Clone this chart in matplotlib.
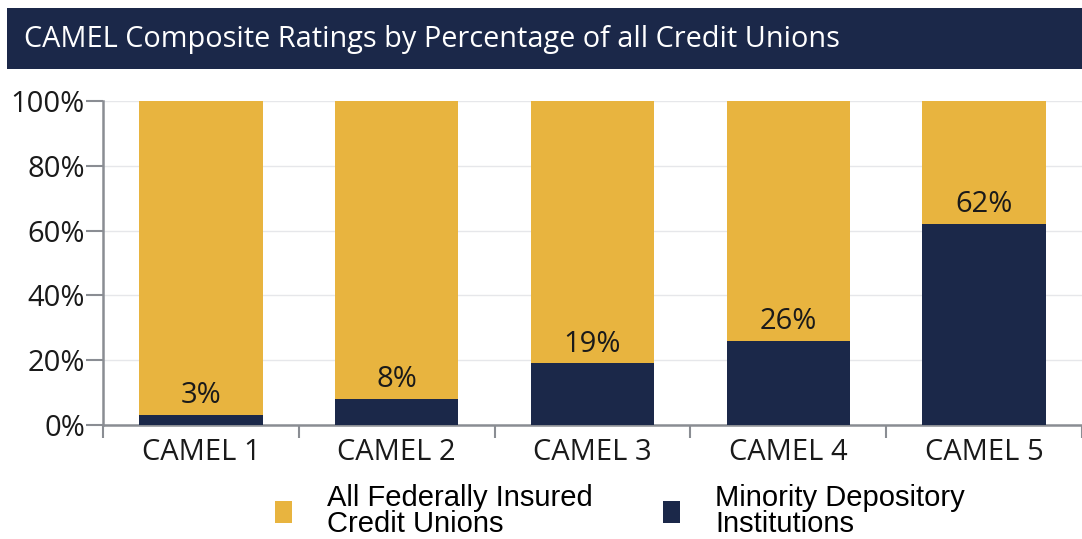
import matplotlib
matplotlib.use('Agg')
import matplotlib.pyplot as plt
from matplotlib.patches import Rectangle
import numpy as np

# Data
categories = ['CAMEL 1', 'CAMEL 2', 'CAMEL 3', 'CAMEL 4', 'CAMEL 5']
all_fi = [100, 100, 100, 100, 100]
mdi = [3, 8, 19, 26, 62]
title = 'CAMEL Composite Ratings by Percentage of all Credit Unions'
legend_labels = ['All Federally Insured\nCredit Unions', 'Minority Depository\nInstitutions']

YELLOW = '#E8B43F'
NAVY = '#1B2849'
GREY = '#8A8D93'

plt.rcParams['font.family'] = ['Open Sans', 'DejaVu Sans']

fig = plt.figure(figsize=(10.82, 5.39), dpi=100)
ax = fig.add_axes([103 / 1082, 1 - 425 / 539, 1 - 103 / 1082, (425 - 101) / 539])

# title bar
fig.patches.append(Rectangle((7 / 1082, 1 - 69 / 539), 1 - 7 / 1082, 61 / 539,
                             transform=fig.transFigure, facecolor=NAVY,
                             edgecolor='none', zorder=0))
fig.text(24 / 1082, 1 - 39 / 539, title, color='white', fontsize=20.8,
         va='center', ha='left')

x = np.arange(len(categories))
w = 0.63
ax.bar(x, all_fi, width=w, color=YELLOW, zorder=2, label=legend_labels[0])
ax.bar(x, mdi, width=w, color=NAVY, zorder=3, label=legend_labels[1])

for xi, v in zip(x, mdi):
    ax.text(xi, v + 1.5, f'{v}%', ha='center', va='bottom', fontsize=21,
            color='#1a1a1a', zorder=4)

ax.set_xlim(-0.5, 4.5)
ax.set_ylim(0, 100)
ax.set_yticks(np.arange(0, 101, 20))
ax.set_yticklabels([f'{t}%' for t in range(0, 101, 20)], fontsize=21, color='#1a1a1a')
ax.set_xticks(x)
ax.set_xticklabels(categories, fontsize=21, color='#1a1a1a')
ax.tick_params(axis='x', which='major', length=0, pad=9)
ax.set_xticks(np.arange(-0.5, 5, 1), minor=True)
ax.tick_params(axis='x', which='minor', length=9, width=1.5, color=GREY)
ax.tick_params(axis='y', length=12, width=1.5, color=GREY, pad=1)

ax.grid(axis='y', color='#E6E7EA', linewidth=1, zorder=0)
ax.set_axisbelow(True)
for s in ['top', 'right']:
    ax.spines[s].set_visible(False)
for s in ['left', 'bottom']:
    ax.spines[s].set_color(GREY)
    ax.spines[s].set_linewidth(1.8)

leg = fig.legend(loc='center', bbox_to_anchor=(0.573, 1 - 511 / 539), ncol=2,
                 frameon=False, handlelength=0.6, handleheight=0.75,
                 handletextpad=1.2, columnspacing=2.4, labelspacing=0.1,
                 prop={'family': ['Liberation Sans', 'DejaVu Sans'], 'size': 21})
for t in leg.get_texts():
    t.set_linespacing(0.95)

fig.savefig('out.png', dpi=100)
